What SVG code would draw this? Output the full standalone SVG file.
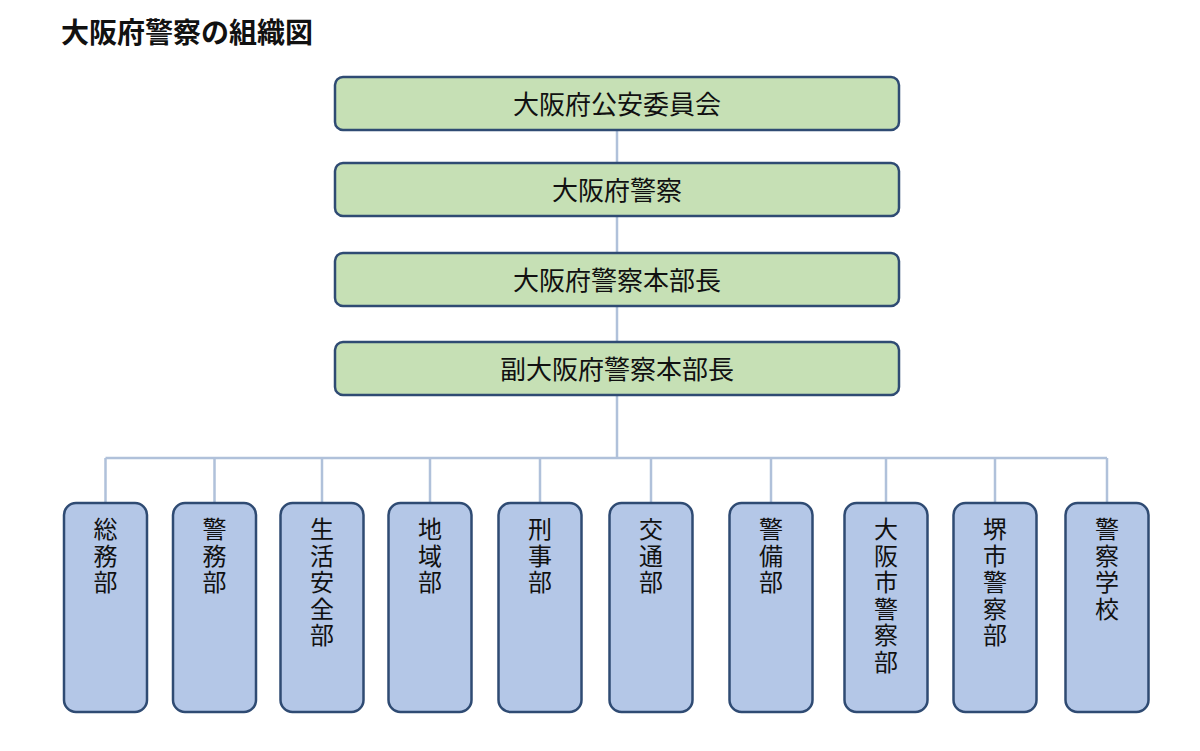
<svg xmlns="http://www.w3.org/2000/svg" width="1200" height="751" viewBox="0 0 1200 751">
<style>
.top{fill:#c6e0b5;stroke:#2f4b73;stroke-width:2.5}
.dep{fill:#b4c7e7;stroke:#2f4b73;stroke-width:2.5}
.lbl{font-family:"Noto Sans CJK JP","Noto Sans",sans-serif;font-size:26px;fill:#111;text-anchor:middle}
.vl{font-family:"Noto Sans CJK JP","Noto Sans",sans-serif;font-size:24px;fill:#111;writing-mode:vertical-rl;text-anchor:start;letter-spacing:2.5px}
.ttl{font-family:"Noto Sans CJK JP","Noto Sans",sans-serif;font-size:28px;font-weight:bold;fill:#111}
.con{stroke:#b0c1da;stroke-width:2.5;fill:none}
</style>
<rect width="1200" height="751" fill="#ffffff"/>
<text class="ttl" x="61" y="43">大阪府警察の組織図</text>
<g id="connectors">
<path class="con" d="M617 130V163M617 216V253M617 306V342M617 395V458"/>
<path class="con" d="M105.5 458H1107M105.5 458V503M214.5 458V503M322 458V503M430 458V503M540 458V503M651 458V503M771 458V503M886 458V503M995 458V503M1107 458V503"/>
</g>
<g id="n1"><rect class="top" x="335" y="77" width="564" height="53" rx="8"/><text class="lbl" x="617" y="113.5">大阪府公安委員会</text></g>
<g id="n2"><rect class="top" x="335" y="163" width="564" height="53" rx="8"/><text class="lbl" x="617" y="199.5">大阪府警察</text></g>
<g id="n3"><rect class="top" x="335" y="253" width="564" height="53" rx="8"/><text class="lbl" x="617" y="289.5">大阪府警察本部長</text></g>
<g id="n4"><rect class="top" x="335" y="342" width="564" height="53" rx="8"/><text class="lbl" x="617" y="378.5">副大阪府警察本部長</text></g>
<g id="d1"><rect class="dep" x="64" y="503" width="83" height="209" rx="12"/><text class="vl" x="105.5" y="517">総務部</text></g>
<g id="d2"><rect class="dep" x="173" y="503" width="83" height="209" rx="12"/><text class="vl" x="214.5" y="517">警務部</text></g>
<g id="d3"><rect class="dep" x="280.5" y="503" width="83" height="209" rx="12"/><text class="vl" x="322" y="517">生活安全部</text></g>
<g id="d4"><rect class="dep" x="388.5" y="503" width="83" height="209" rx="12"/><text class="vl" x="430" y="517">地域部</text></g>
<g id="d5"><rect class="dep" x="498.5" y="503" width="83" height="209" rx="12"/><text class="vl" x="540" y="517">刑事部</text></g>
<g id="d6"><rect class="dep" x="609.5" y="503" width="83" height="209" rx="12"/><text class="vl" x="651" y="517">交通部</text></g>
<g id="d7"><rect class="dep" x="729.5" y="503" width="83" height="209" rx="12"/><text class="vl" x="771" y="517">警備部</text></g>
<g id="d8"><rect class="dep" x="844.5" y="503" width="83" height="209" rx="12"/><text class="vl" x="886" y="517">大阪市警察部</text></g>
<g id="d9"><rect class="dep" x="953.5" y="503" width="83" height="209" rx="12"/><text class="vl" x="995" y="517">堺市警察部</text></g>
<g id="d10"><rect class="dep" x="1065.5" y="503" width="83" height="209" rx="12"/><text class="vl" x="1107" y="517">警察学校</text></g>
</svg>
